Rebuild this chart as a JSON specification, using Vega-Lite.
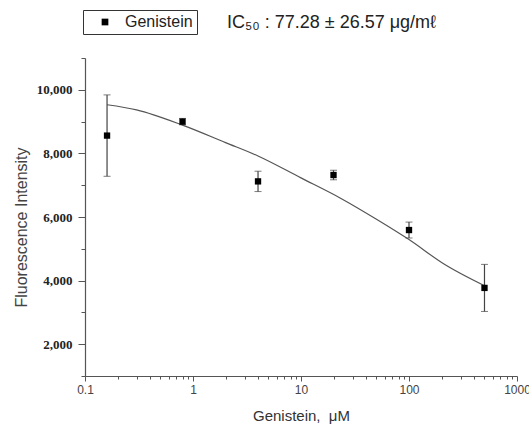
{
  "$schema": "https://vega.github.io/schema/vega-lite/v6.json",
  "autosize": {"type": "none"},
  "padding": {"left": 85, "top": 58, "right": 12, "bottom": 49},
  "width": 432,
  "height": 318,
  "background": "white",
  "title": {
    "text": "IC₅₀ : 77.28 ± 26.57 μg/mℓ",
    "anchor": "start",
    "frame": "group",
    "dx": 142,
    "offset": -22,
    "font": "Liberation Sans",
    "fontSize": 18,
    "fontWeight": "normal",
    "color": "#222"
  },
  "config": {
    "view": {"stroke": null},
    "axis": {"grid": false, "domainColor": "#555", "tickColor": "#555", "domainWidth": 1.2, "tickWidth": 1}
  },
  "datasets": {
    "obs": [
      {"conc": 0.16, "y": 8560, "sd": 1280},
      {"conc": 0.8, "y": 9000, "sd": 100},
      {"conc": 4, "y": 7120, "sd": 320},
      {"conc": 20, "y": 7320, "sd": 150},
      {"conc": 100, "y": 5590, "sd": 250},
      {"conc": 500, "y": 3770, "sd": 740}
    ],
    "fit": [
      {"conc": 0.16, "y": 9530},
      {"conc": 0.3, "y": 9370},
      {"conc": 0.8, "y": 8890},
      {"conc": 2, "y": 8340},
      {"conc": 4, "y": 7920},
      {"conc": 10, "y": 7230},
      {"conc": 23, "y": 6600},
      {"conc": 50, "y": 5930},
      {"conc": 100, "y": 5290},
      {"conc": 209, "y": 4530},
      {"conc": 500, "y": 3840}
    ]
  },
  "resolve": {"axis": {"x": "independent", "y": "independent"}},
  "layer": [
    {
      "data": {"name": "fit"},
      "mark": {"type": "line", "color": "#555", "strokeWidth": 1.2, "interpolate": "monotone"},
      "encoding": {
        "x": {
          "field": "conc",
          "type": "quantitative",
          "scale": {"type": "log", "domain": [0.1, 1000], "nice": false},
          "axis": {
            "orient": "bottom",
            "title": "Genistein, \u00a0μM",
            "titleFont": "Liberation Sans",
            "titleFontSize": 15,
            "titleFontWeight": "normal",
            "titleColor": "#333",
            "titlePadding": 13,
            "values": [0.1, 1, 10, 100, 1000],
            "labelExpr": "datum.value < 1 ? '0.1' : format(datum.value, 'd')",
            "tickSize": 5,
            "labelFont": "Liberation Sans",
            "labelFontSize": 12,
            "labelColor": "#444",
            "labelPadding": 3,
            "labelOverlap": false,
            "labelFlush": false,
            "labelBound": false
          }
        },
        "y": {
          "field": "y",
          "type": "quantitative",
          "scale": {"domain": [1000, 11000], "nice": false, "zero": false},
          "axis": {
            "orient": "left",
            "title": "Fluorescence Intensity",
            "titleFont": "Liberation Sans",
            "titleFontSize": 16,
            "titleFontWeight": "normal",
            "titleColor": "#444",
            "titlePadding": 7,
            "titleY": 169,
            "values": [2000, 4000, 6000, 8000, 10000],
            "format": ",d",
            "tickSize": 7,
            "labelFont": "Liberation Serif",
            "labelFontWeight": "bold",
            "labelFontSize": 13,
            "labelColor": "#222",
            "labelPadding": 6,
            "labelOverlap": false
          }
        }
      }
    },
    {
      "data": {"name": "obs"},
      "mark": {"type": "errorbar", "ticks": {"size": 7, "color": "#444"}, "rule": {"color": "#444", "strokeWidth": 1.2}},
      "encoding": {
        "x": {"field": "conc", "type": "quantitative", "axis": null},
        "y": {"field": "y", "type": "quantitative", "axis": null},
        "yError": {"field": "sd"}
      }
    },
    {
      "data": {"name": "obs"},
      "mark": {"type": "point", "shape": "square", "filled": true, "size": 40, "opacity": 1},
      "encoding": {
        "x": {
          "field": "conc",
          "type": "quantitative",
          "axis": {
            "orient": "bottom",
            "title": null,
            "domain": false,
            "labels": false,
            "tickSize": 3,
            "values": [0.2, 0.3, 0.4, 0.5, 0.6, 0.7, 0.8, 0.9, 2, 3, 4, 5, 6, 7, 8, 9, 20, 30, 40, 50, 60, 70, 80, 90, 200, 300, 400, 500, 600, 700, 800, 900]
          }
        },
        "y": {
          "field": "y",
          "type": "quantitative",
          "axis": {
            "orient": "left",
            "title": null,
            "domain": false,
            "labels": false,
            "tickSize": 4,
            "values": [1000, 3000, 5000, 7000, 9000, 11000]
          }
        },
        "color": {
          "datum": "Genistein",
          "scale": {"range": ["black"]},
          "legend": {
            "title": null,
            "orient": "none",
            "legendX": -2,
            "legendY": -48,
            "strokeColor": "#333",
            "padding": 4,
            "symbolType": "square",
            "symbolSize": 45,
            "symbolOffset": 10,
            "labelOffset": 12,
            "labelFont": "Liberation Sans",
            "labelFontSize": 16,
            "labelColor": "#222"
          }
        }
      }
    }
  ]
}
